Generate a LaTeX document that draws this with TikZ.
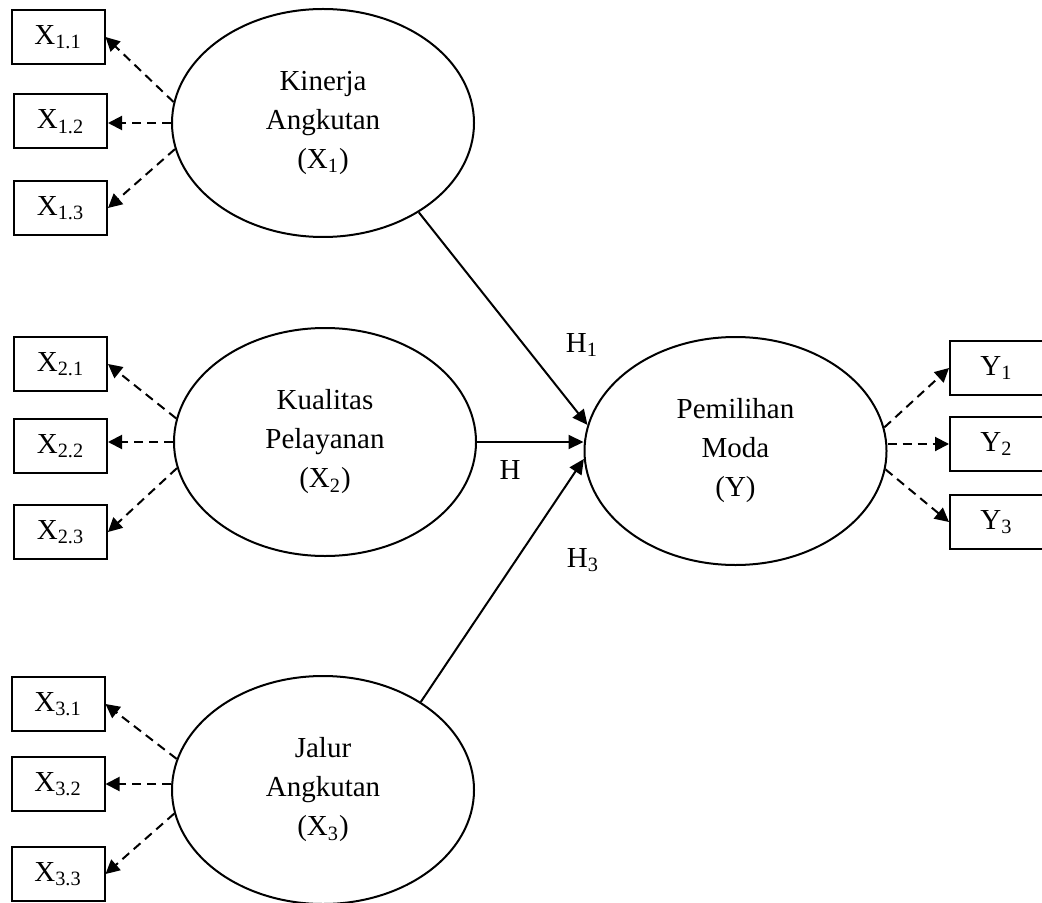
\documentclass[tikz,border=0pt]{standalone}
\usepackage{fontspec}
\setmainfont{Liberation Serif}
\usetikzlibrary{arrows.meta, shapes.geometric}

\begin{document}
\begin{tikzpicture}[x=0.5pt, y=-0.5pt]
\tikzset{LatentStyle/.style =
    {draw, shape=ellipse, line width=1pt, minimum width=151pt, minimum height=114pt, inner sep=0pt, align=center, font=\fontsize{14.5}{19.5}\selectfont}
}
\tikzset{IndicatorStyle/.style = {draw, shape=rectangle, line width=1pt, minimum width=46.5pt, minimum height=27pt, inner sep=0pt, font=\fontsize{14.5}{17}\selectfont}}
\tikzset{LoadStyle/.style = {-{Triangle[length=7pt, width=7pt]}, line width=1pt, dash pattern=on 4.5pt off 3pt}}
\tikzset{PathStyle/.style = {-{Triangle[length=7.5pt, width=7pt]}, line width=1pt}}
\tikzset{LabelStyle/.style = {text=black, font=\fontsize{14.5}{17}\selectfont, inner sep=0pt}}
\useasboundingbox (0,0) rectangle (1042,903);

\node[LatentStyle] (M-kin) at (323,123) {Kinerja\\Angkutan\\(X\textsubscript{1})};
\node[LatentStyle] (M-kual) at (325,442) {Kualitas\\Pelayanan\\(X\textsubscript{2})};
\node[LatentStyle] (M-jal) at (323,790) {Jalur\\Angkutan\\(X\textsubscript{3})};
\node[LatentStyle] (M-pem) at (735.5,451) {Pemilihan\\Moda\\(Y)};

\foreach \index/\name/\xpos/\ypos in {11/1.1/58/37, 12/1.2/60.5/121.5, 13/1.3/60.5/208,
    21/2.1/60.5/364, 22/2.2/60.5/446, 23/2.3/60.5/532,
    31/3.1/58/704, 32/3.2/58/784, 33/3.3/58/874}
    \node[IndicatorStyle] (M-x\index) at (\xpos,\ypos) {X\textsubscript{\name}};
\foreach \index/\ypos in {1/368, 2/444, 3/522}
    \node[IndicatorStyle] (M-y\index) at (996.5,\ypos) {Y\textsubscript{\index}};

% loadings
\draw[LoadStyle] (M-kin.172) to (M-x11.east);
\draw[LoadStyle] (M-kin.west) to (M-kin.west -| M-x12.east);
\draw[LoadStyle] (M-kin.190) to (M-x13.east);
\draw[LoadStyle] (M-kual.171) to (M-x21.east);
\draw[LoadStyle] (M-kual.west) to (M-kual.west -| M-x22.east);
\draw[LoadStyle] (M-kual.190) to (M-x23.east);
\draw[LoadStyle] (M-jal.168) to (M-x31.east);
\draw[LoadStyle] (M-x32.east -| M-jal.west) to (M-x32.east);
\draw[LoadStyle] (M-jal.189) to (M-x33.east);
\draw[LoadStyle] (M-pem.9) to (M-y1.west);
\draw[LoadStyle] (M-y2.west -| M-pem.east) to (M-y2.west);
\draw[LoadStyle] (M-pem.-7) to (M-y3.west);

% paths
\draw[PathStyle] (M-kin.-43) to (M-pem.170);
\draw[PathStyle] (M-kual.east) to (M-kual.east -| M-pem.west);
\draw[PathStyle] (M-jal.42) to (M-pem.183);

\node[LabelStyle] (L-h1) at (582,345) {H\textsubscript{1}};
\node[LabelStyle] (L-h2) at (510,470) {H};
\node[LabelStyle] (L-h3) at (583,560) {H\textsubscript{3}};
\end{tikzpicture}
\end{document}
